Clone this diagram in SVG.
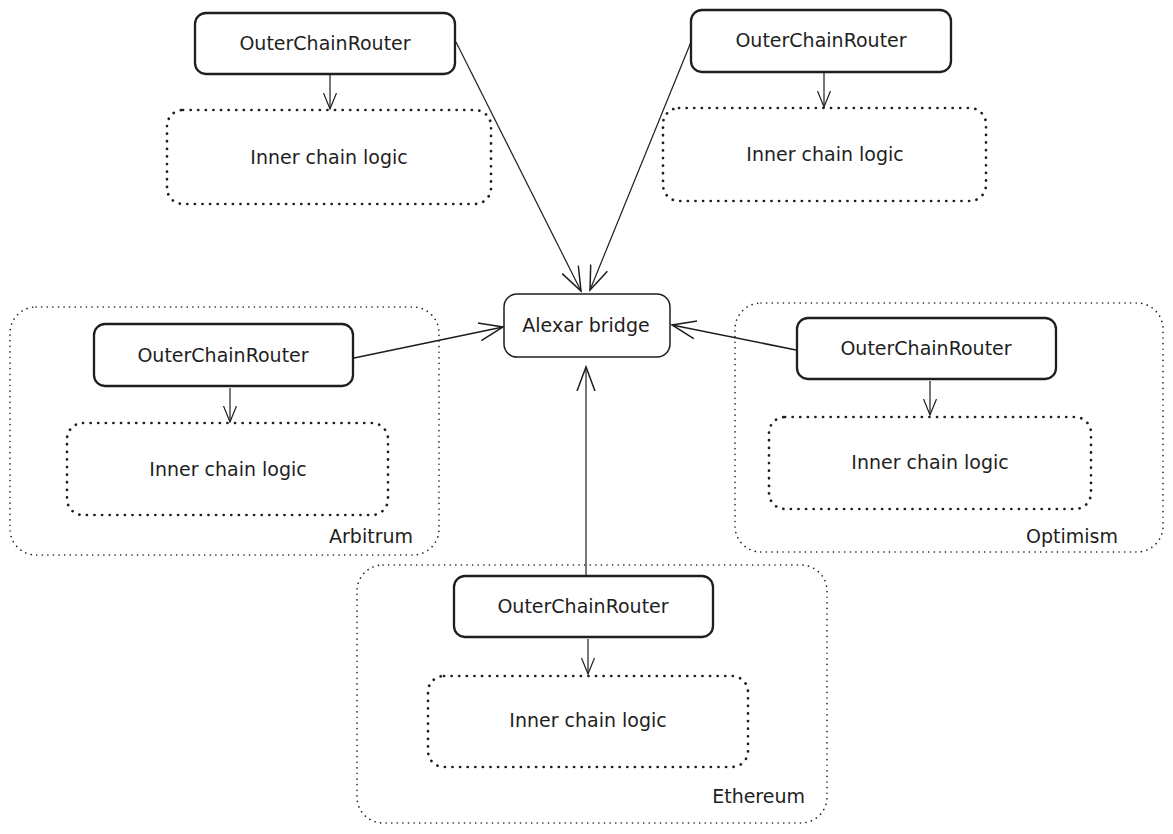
<svg xmlns="http://www.w3.org/2000/svg" width="1173" height="834" viewBox="0 0 1173 834">
<style>
text{font-family:"DejaVu Sans","Liberation Sans",sans-serif;font-size:19px;fill:#1e1e1e;}
.c{text-anchor:middle;dominant-baseline:central;}
.lab{text-anchor:end;}
.ocr{fill:#fff;stroke:#1e1e1e;stroke-width:2.3;}
.inner{fill:none;stroke:#1e1e1e;stroke-width:2.7;stroke-dasharray:0.1 7.5;stroke-linecap:round;}
.cont{fill:none;stroke:#1e1e1e;stroke-width:1.6;stroke-dasharray:0.1 5.5;stroke-linecap:round;}
.hub{fill:#fff;stroke:#1e1e1e;stroke-width:1.5;}
.ln{fill:none;stroke:#1e1e1e;stroke-width:1.2;}
.lnb{fill:none;stroke:#1e1e1e;stroke-width:1.6;}
</style>
<defs>
<marker id="big" markerUnits="userSpaceOnUse" markerWidth="30" markerHeight="30" refX="24" refY="12" orient="auto" viewBox="0 0 30 24">
<path d="M0,3 L24,12 L0,21" fill="none" stroke="#1e1e1e" stroke-width="1.5"/>
</marker>
<marker id="small" markerUnits="userSpaceOnUse" markerWidth="20" markerHeight="20" refX="16" refY="8" orient="auto" viewBox="0 0 20 16">
<path d="M0,1.5 L16,8 L0,14.5" fill="none" stroke="#1e1e1e" stroke-width="1.2"/>
</marker>
</defs>
<rect width="1173" height="834" fill="#fff"/>

<g id="arbitrum">
<rect class="cont" x="10" y="307" width="429" height="248" rx="26"/>
<text class="lab" x="413" y="543">Arbitrum</text>
</g>
<g id="optimism">
<rect class="cont" x="735" y="303" width="428" height="249" rx="26"/>
<text class="lab" x="1118" y="543">Optimism</text>
</g>
<g id="ethereum">
<rect class="cont" x="357" y="565" width="470" height="258" rx="26"/>
<text class="lab" x="805" y="803">Ethereum</text>
</g>

<g id="connectors">
<line class="ln" x1="330" y1="75" x2="330" y2="109" marker-end="url(#small)"/>
<line class="ln" x1="824" y1="73" x2="824" y2="107" marker-end="url(#small)"/>
<line class="ln" x1="230" y1="388" x2="230" y2="422" marker-end="url(#small)"/>
<line class="ln" x1="930" y1="381" x2="930" y2="415" marker-end="url(#small)"/>
<line class="ln" x1="588" y1="639" x2="588" y2="674" marker-end="url(#small)"/>
<line class="ln" x1="456" y1="42" x2="581" y2="291" marker-end="url(#big)"/>
<line class="ln" x1="691" y1="42" x2="590" y2="290" marker-end="url(#big)"/>
<line class="lnb" x1="354" y1="358" x2="503" y2="327" marker-end="url(#big)"/>
<line class="lnb" x1="796" y1="350" x2="672" y2="325" marker-end="url(#big)"/>
<line class="ln" x1="586" y1="576" x2="586" y2="367" marker-end="url(#big)"/>
</g>

<g id="ocr-top-left">
<rect class="ocr" x="195" y="13" width="260" height="61" rx="11"/>
<text class="c" x="325" y="43">OuterChainRouter</text>
</g>
<g id="inner-top-left">
<rect class="inner" x="167" y="110" width="324" height="94" rx="16"/>
<text class="c" x="329" y="157">Inner chain logic</text>
</g>
<g id="ocr-top-right">
<rect class="ocr" x="691" y="10" width="260" height="62" rx="11"/>
<text class="c" x="821" y="40">OuterChainRouter</text>
</g>
<g id="inner-top-right">
<rect class="inner" x="663" y="108" width="323" height="93" rx="16"/>
<text class="c" x="825" y="154">Inner chain logic</text>
</g>
<g id="alexar-bridge">
<rect class="hub" x="504" y="294" width="166" height="63" rx="13"/>
<text class="c" x="586" y="325">Alexar bridge</text>
</g>
<g id="ocr-arbitrum">
<rect class="ocr" x="94" y="324" width="259" height="62" rx="11"/>
<text class="c" x="223" y="355">OuterChainRouter</text>
</g>
<g id="inner-arbitrum">
<rect class="inner" x="67" y="423" width="321" height="92" rx="16"/>
<text class="c" x="228" y="469">Inner chain logic</text>
</g>
<g id="ocr-optimism">
<rect class="ocr" x="797" y="318" width="259" height="61" rx="11"/>
<text class="c" x="926" y="348">OuterChainRouter</text>
</g>
<g id="inner-optimism">
<rect class="inner" x="769" y="417" width="322" height="92" rx="16"/>
<text class="c" x="930" y="462">Inner chain logic</text>
</g>
<g id="ocr-ethereum">
<rect class="ocr" x="454" y="576" width="259" height="61" rx="11"/>
<text class="c" x="583" y="606">OuterChainRouter</text>
</g>
<g id="inner-ethereum">
<rect class="inner" x="428" y="676" width="320" height="91" rx="16"/>
<text class="c" x="588" y="720">Inner chain logic</text>
</g>
</svg>
